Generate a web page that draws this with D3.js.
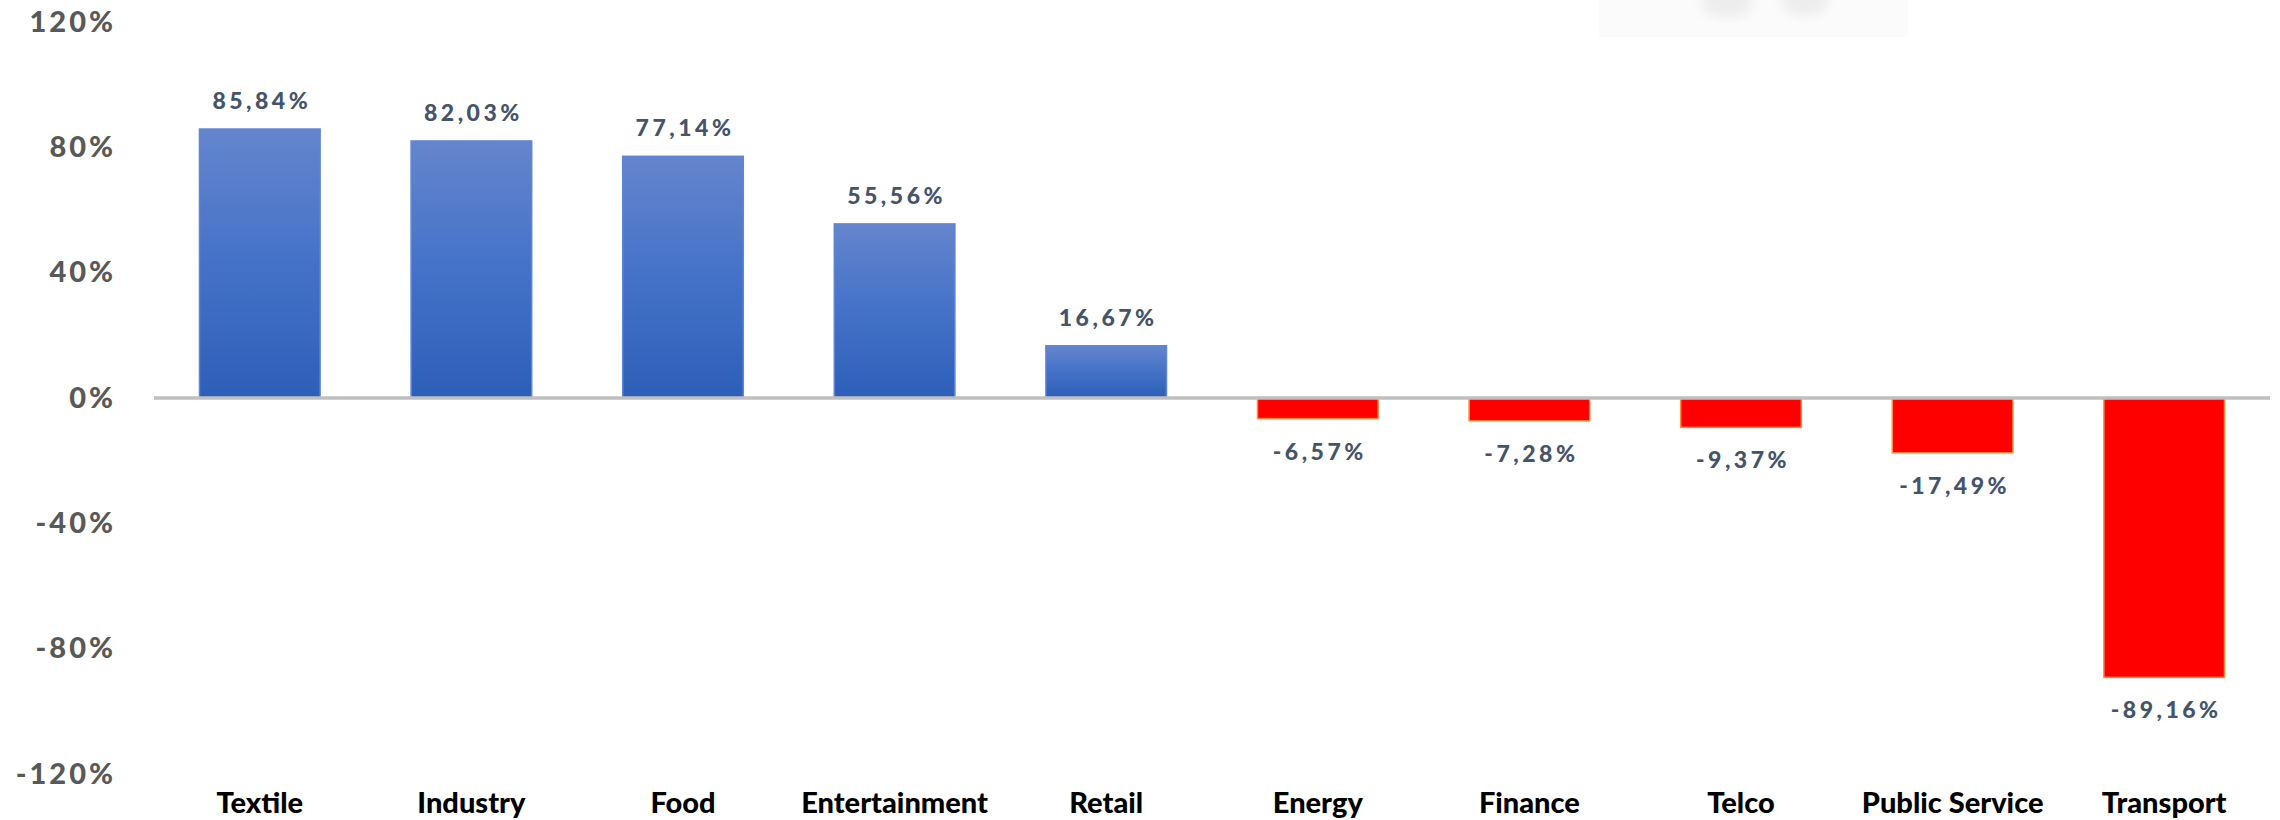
<!DOCTYPE html>
<html>
<head>
<meta charset="utf-8">
<script src="https://cdn.jsdelivr.net/npm/d3@7"></script>
<style>
  html, body { margin: 0; padding: 0; background: #fff; }
  svg { display: block; }
</style>
</head>
<body>
<div id="chart"></div>
<script>
const categories = ["Textile", "Industry", "Food", "Entertainment", "Retail",
    "Energy", "Finance", "Telco", "Public Service", "Transport"];
const values = [85.84, 82.03, 77.14, 55.56, 16.67, -6.57, -7.28, -9.37, -17.49, -89.16];
const yTicks = [-120, -80, -40, 0, 40, 80, 120];

const width = 2280;
const height = 820;
const labelFont = "Lato, 'Liberation Sans', Arial, sans-serif";

const svg = d3.select("#chart").append("svg")
    .attr("width", width)
    .attr("height", height);

const defs = svg.append("defs");
const grad = defs.append("linearGradient")
    .attr("id", "blueGrad")
    .attr("x1", 0).attr("y1", 0).attr("x2", 0).attr("y2", 1);
grad.append("stop").attr("offset", "0%").attr("stop-color", "#6585cd");
grad.append("stop").attr("offset", "50%").attr("stop-color", "#4472c8");
grad.append("stop").attr("offset", "100%").attr("stop-color", "#2d5fb8");

defs.append("filter").attr("id", "soft")
    .append("feGaussianBlur").attr("stdDeviation", 6);

// faint watermark at the top
svg.append("rect")
    .attr("x", 1599).attr("y", 0)
    .attr("width", 309).attr("height", 37)
    .attr("fill", "#fbfbfb");
const wm = svg.append("g").attr("filter", "url(#soft)").attr("fill", "#ededed");
wm.append("ellipse").attr("cx", 1727).attr("cy", 2).attr("rx", 26).attr("ry", 16);
wm.append("ellipse").attr("cx", 1805).attr("cy", 0).attr("rx", 24).attr("ry", 16);

const x = d3.scaleBand()
    .domain(categories)
    .range([154, 2270])
    .paddingInner(0.43)
    .paddingOuter(0.215);

const y = d3.scaleLinear()
    .domain([-120, 120])
    .range([774, 22]);

// y axis labels
const yAxis = svg.append("g")
    .attr("transform", "translate(116,0)")
    .call(d3.axisLeft(y).tickValues(yTicks).tickSize(0).tickPadding(0)
        .tickFormat(d => d + "%"));
yAxis.select(".domain").remove();
yAxis.selectAll("text")
    .attr("font-family", labelFont)
    .attr("font-weight", 900)
    .attr("font-size", "29px")
    .attr("letter-spacing", "3px")
    .attr("fill", "#595959");

// bars
svg.selectAll(".bar")
    .data(values)
    .enter().append("rect")
    .attr("class", "bar")
    .attr("x", (d, i) => x(categories[i]))
    .attr("width", x.bandwidth())
    .attr("y", d => y(Math.max(0, d)))
    .attr("height", d => Math.abs(y(d) - y(0)))
    .attr("fill", d => d >= 0 ? "url(#blueGrad)" : "#ff0000")
    .attr("stroke", d => d >= 0 ? "#5d86d6" : "#ff8a3c")
    .attr("stroke-width", 1.5);

// zero line
svg.append("line")
    .attr("x1", x.range()[0]).attr("x2", x.range()[1])
    .attr("y1", y(0)).attr("y2", y(0))
    .attr("stroke", "#bfbfbf")
    .attr("stroke-width", 3.5);

// value labels
svg.selectAll(".value")
    .data(values)
    .enter().append("text")
    .attr("class", "value")
    .attr("x", (d, i) => x(categories[i]) + x.bandwidth() / 2 + 2)
    .attr("y", d => d >= 0 ? y(d) - 20 : y(d) + 41)
    .attr("text-anchor", "middle")
    .attr("font-family", labelFont)
    .attr("font-weight", 900)
    .attr("font-size", "23px")
    .attr("letter-spacing", "3.5px")
    .attr("fill", "#44546a")
    .text(d => d.toFixed(2).replace(".", ",") + "%");

// category labels
svg.selectAll(".cat")
    .data(categories)
    .enter().append("text")
    .attr("class", "cat")
    .attr("x", d => x(d) + x.bandwidth() / 2)
    .attr("y", 813)
    .attr("text-anchor", "middle")
    .attr("font-family", labelFont)
    .attr("font-weight", 900)
    .attr("font-size", "29px")
    .attr("fill", "#000")
    .text(d => d);
</script>
</body>
</html>
